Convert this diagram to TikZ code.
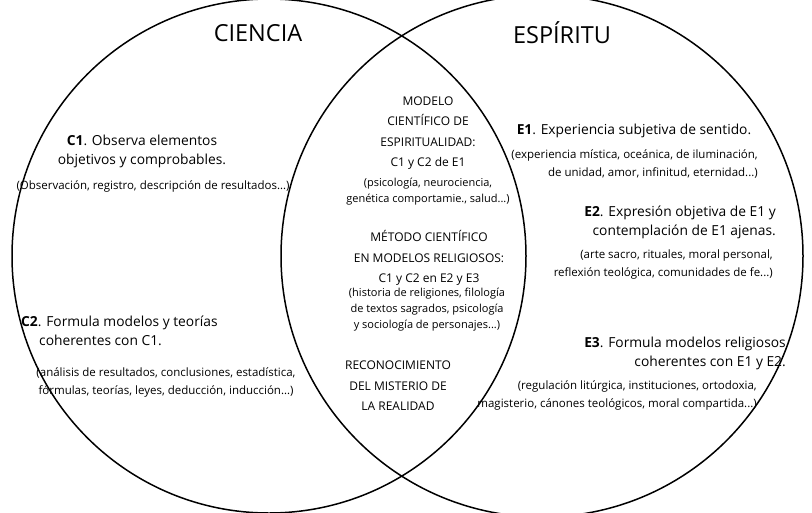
\documentclass[tikz,border=0pt]{standalone}
\usepackage{fontspec}
\setmainfont{Open Sans}
\begin{document}
\begin{tikzpicture}[x=1pt,y=-1pt,
  title/.style={font=\fontsize{23.5}{26}\selectfont},
  body/.style={font=\fontsize{13.8}{19}\selectfont,inner sep=0pt},
  small/.style={font=\fontsize{11.5}{18}\selectfont,inner sep=0pt},
  msmall/.style={font=\fontsize{11}{16}\selectfont,inner sep=0pt,align=center},
  mid/.style={font=\fontsize{12}{20.5}\selectfont,inner sep=0pt,align=center},
  ring/.style={draw,line width=1.5pt}]
\useasboundingbox (0,0) rectangle (812,512);
\node[ring,circle,minimum size=514pt,inner sep=0pt] (L) at (269,256) {};
\node[ring,circle,minimum size=522pt,inner sep=0pt] (R) at (542,256) {};
\node[title] (t1) at (258,33) {CIENCIA};
\node[title] (t2) at (562,33) {ESPÍRITU};
% C1
\node[body,align=center] (c1) at (142,151) {\textbf{C1}. Observa elementos\\objetivos y comprobables.};
\node[small] (c1s) at (153,186) {(Observación, registro, descripción de resultados…)};
% C2
\node[body,align=left,anchor=north west] (c2) at (21,316) {\textbf{C2}. Formula modelos y teorías\\\hspace*{18pt}coherentes con C1.};
\node[small,align=center] (c2s) at (166,382) {(análisis de resultados, conclusiones, estadística,\\fórmulas, teorías, leyes, deducción, inducción…)};
% middle
\node[mid] (m1) at (428,133) {MODELO\\CIENTÍFICO DE\\ESPIRITUALIDAD:\\C1 y C2 de E1};
\node[msmall] (m1s) at (428,192) {(psicología, neurociencia,\\genética comportamie., salud...)};
\node[mid] (m2) at (429,258) {MÉTODO CIENTÍFICO\\EN MODELOS RELIGIOSOS:\\C1 y C2 en E2 y E3};
\node[msmall] (m2s) at (427,310) {(historia de religiones, filología\\de textos sagrados, psicología\\y sociología de personajes...)};
\node[mid] (m3) at (398,386) {RECONOCIMIENTO\\DEL MISTERIO DE\\LA REALIDAD};
% E1
\node[body] (e1) at (634,131) {\textbf{E1}. Experiencia subjetiva de sentido.};
\node[small,align=right,anchor=east] (e1s) at (758,164) {(experiencia mística, oceánica, de iluminación,\\de unidad, amor, infinitud, eternidad...)};
% E2
\node[body,align=right,anchor=east] (e2) at (776,222) {\textbf{E2}. Expresión objetiva de E1 y\\contemplación de E1 ajenas.};
\node[small,align=right,anchor=east] (e2s) at (773,265) {(arte sacro, rituales, moral personal,\\reflexión teológica, comunidades de fe...)};
% E3
\node[body,align=right,anchor=east] (e3) at (786,353) {\textbf{E3}. Formula modelos religiosos\\coherentes con E1 y E2.};
\node[small,align=right,anchor=east] (e3s) at (757,395) {(regulación litúrgica, instituciones, ortodoxia,\\magisterio, cánones teológicos, moral compartida...)};
\end{tikzpicture}
\end{document}
